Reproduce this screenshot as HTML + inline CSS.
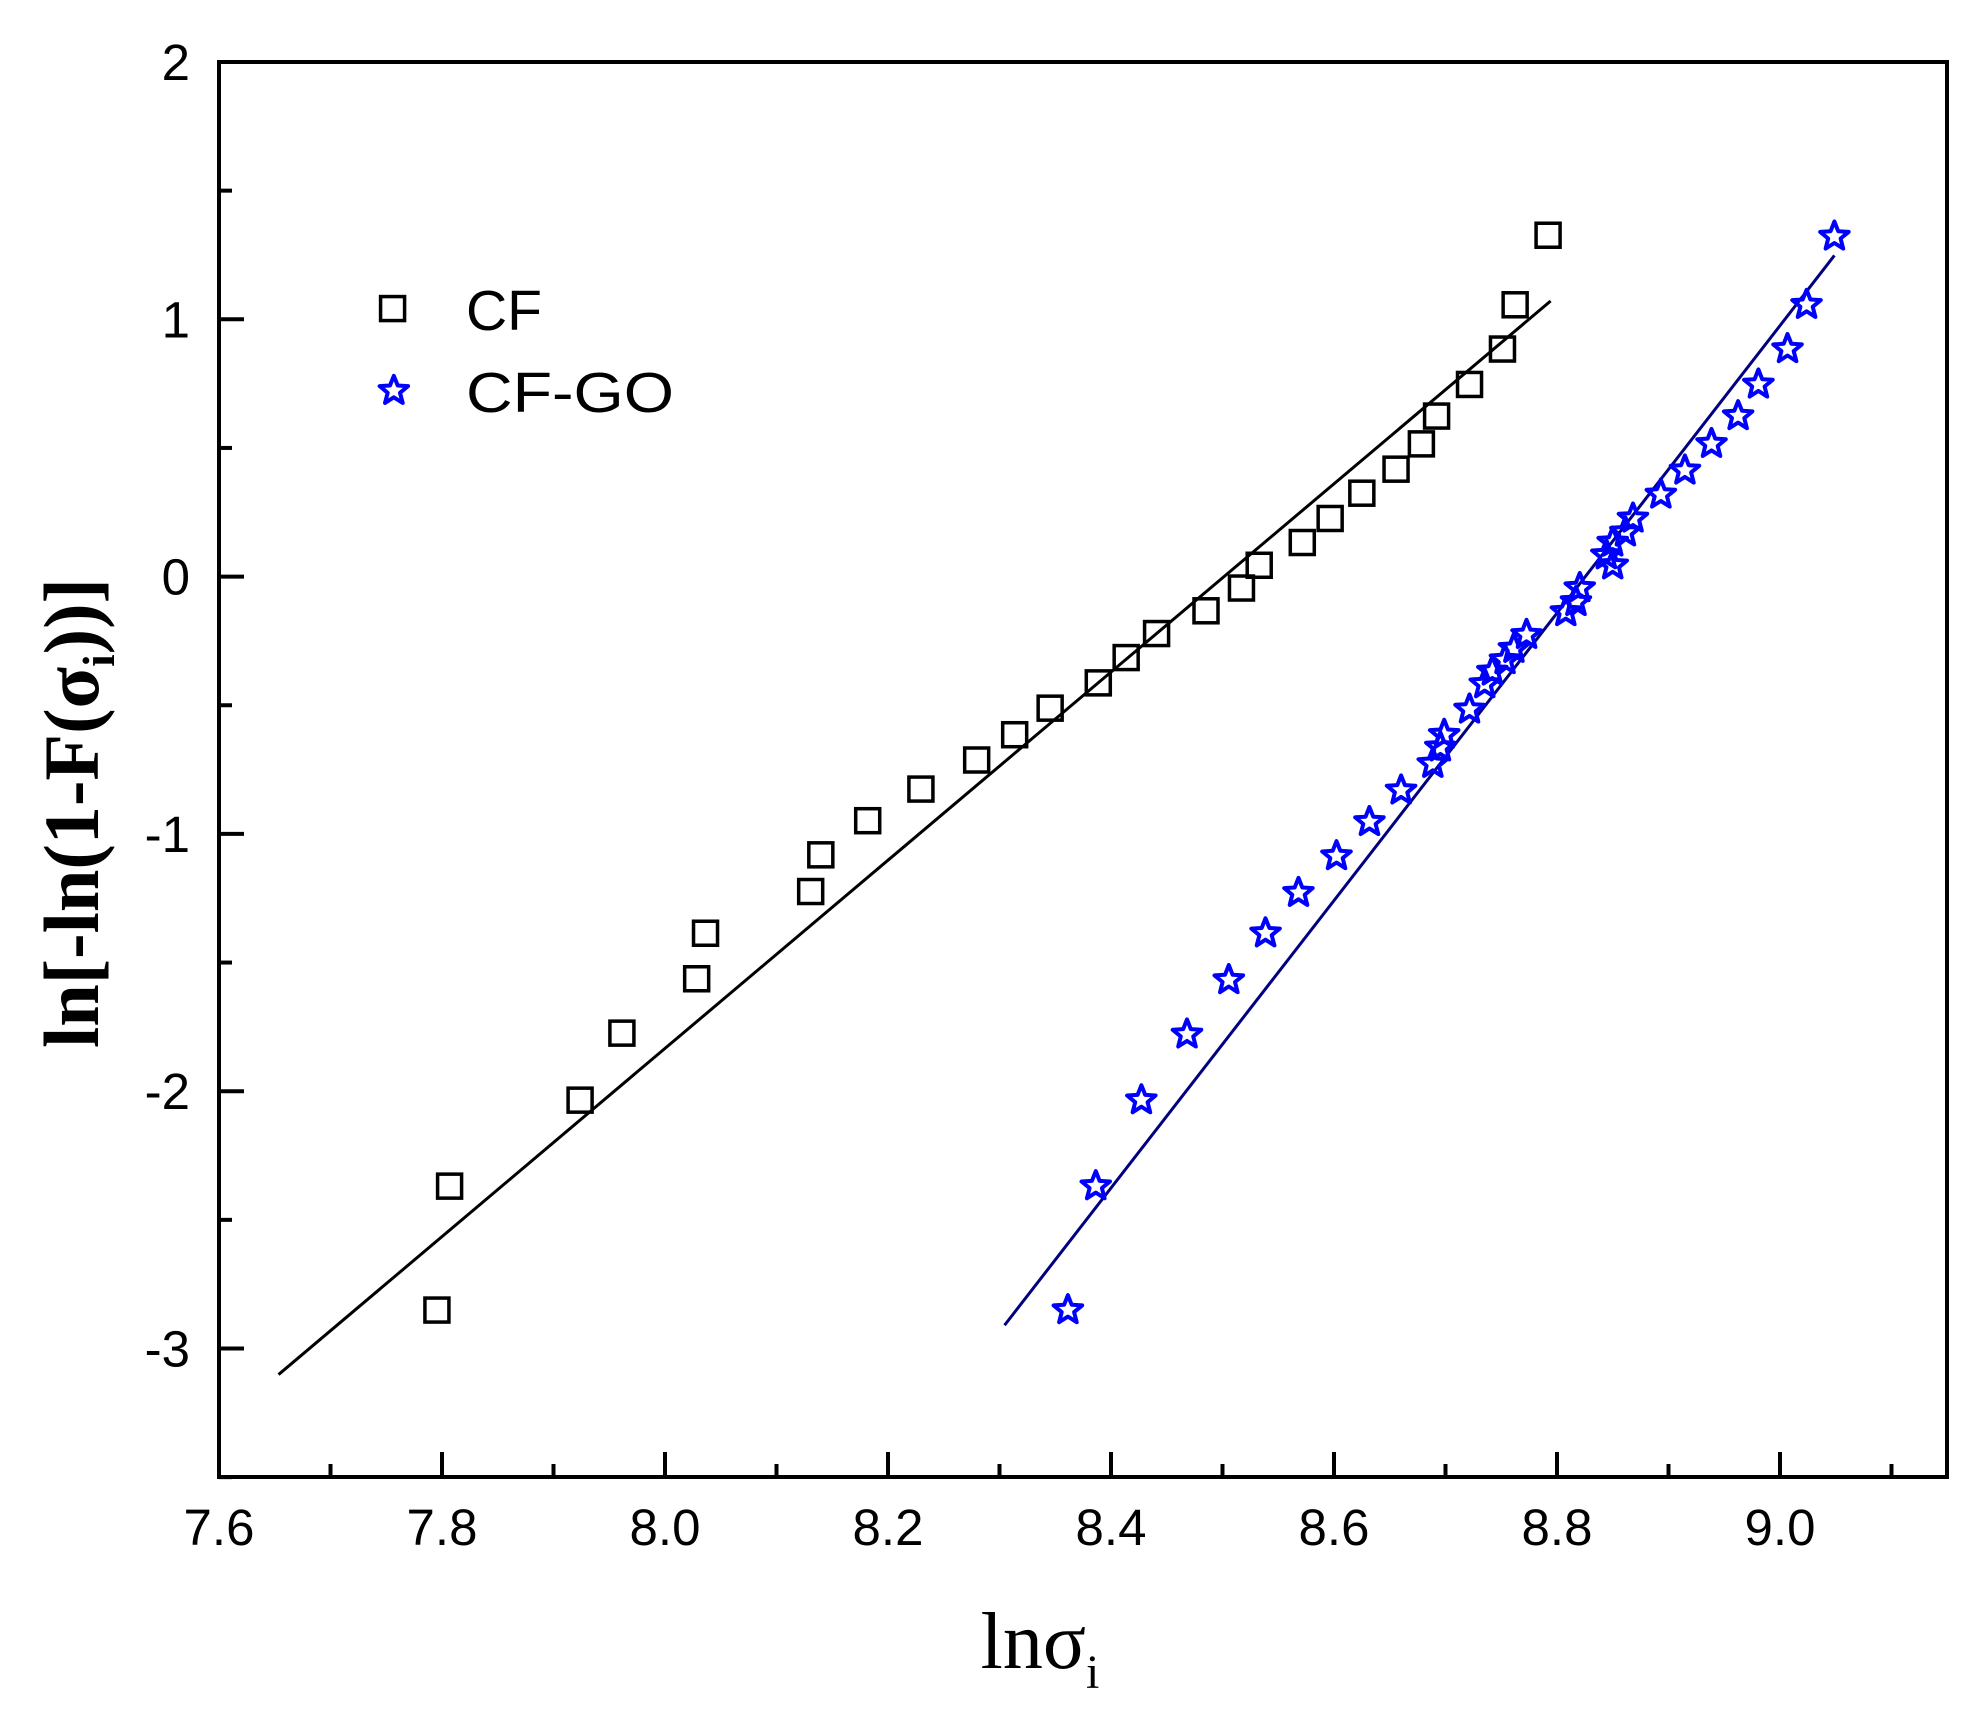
<!DOCTYPE html>
<html><head><meta charset="utf-8"><style>html,body{margin:0;padding:0;background:#fff}svg{display:block}</style></head>
<body>
<svg id="s" width="1986" height="1720" viewBox="0 0 1986 1720" xmlns="http://www.w3.org/2000/svg">
<rect width="1986" height="1720" fill="#fff"/>
<rect x="219" y="62" width="1728" height="1415" fill="none" stroke="#000" stroke-width="4"/>
<g stroke="#000" stroke-width="4" id="ticks"></g>
<g font-family="Liberation Sans, sans-serif" font-size="51" fill="#000" id="labels"></g>
<g id="data"></g>
<g font-family="Liberation Sans, sans-serif" font-size="57" fill="#000">
<text x="466" y="330">CF</text>
<text x="466" y="412" textLength="208" lengthAdjust="spacingAndGlyphs">CF-GO</text>
</g>
<text x="1040" y="1668" font-family="Liberation Serif, serif" font-size="80" text-anchor="middle">lnσ<tspan font-size="48" dy="20">i</tspan></text>
<text transform="translate(98,1048) rotate(-90)" font-family="Liberation Serif, serif" font-weight="bold" font-size="78" textLength="470" lengthAdjust="spacingAndGlyphs">ln[-ln(1-F(σ<tspan font-size="46" dy="16">i</tspan><tspan dy="-16">))]</tspan></text>
</svg>
<script>
var NS="http://www.w3.org/2000/svg";
function X(v){return 219+(v-7.6)*1115}
function Y(v){return 62+(2-v)*257.3}
function el(p,t,a){var e=document.createElementNS(NS,t);for(var k in a)e.setAttribute(k,a[k]);p.appendChild(e);return e}
var tk=document.getElementById('ticks'),lb=document.getElementById('labels');
for(var i=0;i<=15;i++){var v=7.6+i*0.1,x=X(v),maj=i%2==0;if(x>1945)break;
 el(tk,'line',{x1:x,y1:1477,x2:x,y2:1477-(maj?25:13)});
 if(maj){var t=el(lb,'text',{x:x,y:1545,'text-anchor':'middle'});t.textContent=v.toFixed(1);}}
for(var j=0;j<=11;j++){var v=2-j*0.5,y=Y(v),maj=j%2==0;
 el(tk,'line',{x1:219,y1:y,x2:219+(maj?25:13),y2:y});
 if(maj){var t=el(lb,'text',{x:190,y:y+18,'text-anchor':'end'});t.textContent=String(v);}}
var d=document.getElementById('data');
function PX(px){return 219+(px-173)*1.267}function PY(py){return 62+(py-48)*1.2645}
el(d,'line',{x1:PX(220),y1:PY(1086),x2:PX(1224),y2:PY(237),stroke:'#000',"stroke-width":3});
el(d,'line',{x1:PX(793),y1:PY(1047),x2:PX(1448),y2:PY(201),stroke:'#000080',"stroke-width":3});
var cf=[[345,1035],[355,937],[458,869],[491,816],[550,773],[557,737],[640,704],[648,675],[685,648],[727,623],[771,600],[801,580],[829,559],[867,539],[889,519],[913,500],[952,482],[980,464],[994,446],[1028,428],[1050,409],[1075,389],[1102,370],[1122,350],[1134,328],[1160,303],[1186,275],[1196,240],[1222,185]];
function sq(x,y){el(d,'rect',{x:x-12,y:y-12,width:24,height:24,fill:'none',stroke:'#000','stroke-width':3.5});}
function star(x,y){var p=[],R=15,r=6.5;for(var k=0;k<10;k++){var a=-Math.PI/2+k*Math.PI/5,rr=k%2?r:R;p.push((x+rr*Math.cos(a)).toFixed(1)+','+(y+rr*Math.sin(a)).toFixed(1));}
 el(d,'polygon',{points:p.join(' '),fill:'none',stroke:'#0000ff','stroke-width':4,'stroke-linejoin':'round'});}
cf.forEach(function(q){sq(PX(q[0]),PY(q[1]))});
var go=[[843,1035],[865,937],[901,869],[937,817],[970,774],[999,737],[1025,705],[1055,676],[1081,649],[1106,624],[1131,603],[1140,580],[1137,590],[1160,560],[1172,540],[1178,530],[1188,521],[1195,512],[1205,501],[1236,483],[1244,475],[1247,464],[1273,446],[1268,438],[1273,428],[1283,420],[1289,409],[1311,390],[1330,371],[1351,350],[1372,328],[1388,303],[1411,275],[1426,240],[1448,186]];
go.forEach(function(q){star(PX(q[0]),PY(q[1]))});
sq(PX(310),PY(243));star(PX(311),PY(308));
</script>
</body></html>
